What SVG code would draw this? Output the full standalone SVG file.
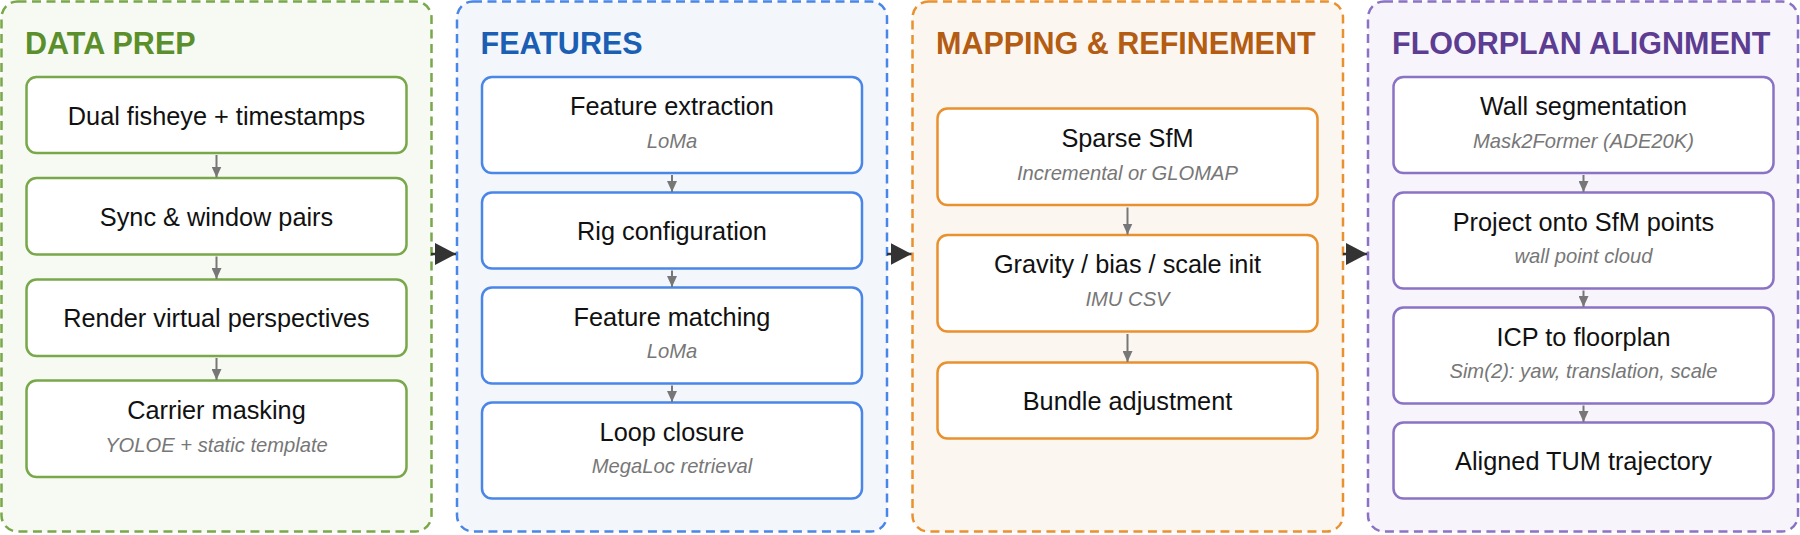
<svg xmlns="http://www.w3.org/2000/svg" width="1800" height="535" viewBox="0 0 1800 535">
<defs>
<marker id="sm" viewBox="0 0 11 10" refX="11" refY="5" markerWidth="11" markerHeight="10" markerUnits="userSpaceOnUse" orient="auto"><path d="M0,0 L11,5 L0,10 z" fill="#777"/></marker>
<marker id="big" viewBox="0 0 21 22" refX="21" refY="11" markerWidth="21" markerHeight="22" markerUnits="userSpaceOnUse" orient="auto"><path d="M0,0 L21,11 L0,22 z" fill="#333"/></marker>
</defs>
<style>
.panel{stroke-width:2.5;stroke-dasharray:9 5.5}
.node{fill:#fff;stroke-width:2.5}
.ttl{font-family:"Liberation Sans",Arial,sans-serif;font-weight:bold;font-size:30.5px}
.t{font-family:"Liberation Sans",Arial,sans-serif;font-size:25.3px;fill:#111;text-anchor:middle}
.s{font-family:"Liberation Sans",Arial,sans-serif;font-size:20.2px;font-style:italic;fill:#777;text-anchor:middle}
.g .panel,.g .node{stroke:#78a84a}.g .panel{fill:#f7faf3}.g .ttl{fill:#5a8f2c}
.b .panel,.b .node{stroke:#4a86e8}.b .panel{fill:#f3f7fb}.b .ttl{fill:#1a5fb4}
.o .panel,.o .node{stroke:#e8912e}.o .panel{fill:#fcf6f0}.o .ttl{fill:#b35c12}
.p .panel,.p .node{stroke:#8a72c4}.p .panel{fill:#f8f4fb}.p .ttl{fill:#5c3d92}
.sa{stroke:#777;stroke-width:2;fill:none}
.ba{stroke:#333;stroke-width:2.5;fill:none}
</style>

<g id="panel-data-prep" class="g">
<rect class="panel" x="1.5" y="1.5" width="430" height="530" rx="16"/>
<text class="ttl" x="25" y="53.5">DATA PREP</text>
<g id="n-dual"><rect class="node" x="26.5" y="77" width="380" height="76" rx="10"/><text class="t" x="216.5" y="124.5">Dual fisheye + timestamps</text></g>
<g id="n-sync"><rect class="node" x="26.5" y="178" width="380" height="76.5" rx="10"/><text class="t" x="216.5" y="225.5">Sync &amp; window pairs</text></g>
<g id="n-render"><rect class="node" x="26.5" y="279.5" width="380" height="76.5" rx="10"/><text class="t" x="216.5" y="327">Render virtual perspectives</text></g>
<g id="n-carrier"><rect class="node" x="26.5" y="380.5" width="380" height="96.5" rx="10"/><text class="t" x="216.5" y="419">Carrier masking</text><text class="s" x="216.5" y="451.5">YOLOE + static template</text></g>
</g>

<g id="panel-features" class="b">
<rect class="panel" x="457" y="1.5" width="430" height="530" rx="16"/>
<text class="ttl" x="480.5" y="53.5">FEATURES</text>
<g id="n-fext"><rect class="node" x="482" y="77" width="380" height="96" rx="10"/><text class="t" x="672" y="115">Feature extraction</text><text class="s" x="672" y="147.5">LoMa</text></g>
<g id="n-rig"><rect class="node" x="482" y="192.5" width="380" height="76" rx="10"/><text class="t" x="672" y="240">Rig configuration</text></g>
<g id="n-fmatch"><rect class="node" x="482" y="287.5" width="380" height="96" rx="10"/><text class="t" x="672" y="325.5">Feature matching</text><text class="s" x="672" y="358">LoMa</text></g>
<g id="n-loop"><rect class="node" x="482" y="402.5" width="380" height="96" rx="10"/><text class="t" x="672" y="440.5">Loop closure</text><text class="s" x="672" y="473">MegaLoc retrieval</text></g>
</g>

<g id="panel-mapping" class="o">
<rect class="panel" x="912.5" y="1.5" width="430.5" height="530" rx="16"/>
<text class="ttl" x="936" y="53.5">MAPPING &amp; REFINEMENT</text>
<g id="n-sfm"><rect class="node" x="937.5" y="108.5" width="380" height="96.5" rx="10"/><text class="t" x="1127.5" y="146.5">Sparse SfM</text><text class="s" x="1127.5" y="179.5">Incremental or GLOMAP</text></g>
<g id="n-gravity"><rect class="node" x="937.5" y="235" width="380" height="96.5" rx="10"/><text class="t" x="1127.5" y="273">Gravity / bias / scale init</text><text class="s" x="1127.5" y="306">IMU CSV</text></g>
<g id="n-ba"><rect class="node" x="937.5" y="362.5" width="380" height="76" rx="10"/><text class="t" x="1127.5" y="409.5">Bundle adjustment</text></g>
</g>

<g id="panel-floorplan" class="p">
<rect class="panel" x="1368" y="1.5" width="430" height="530" rx="16"/>
<text class="ttl" x="1392" y="53.5">FLOORPLAN ALIGNMENT</text>
<g id="n-wall"><rect class="node" x="1393.5" y="77" width="380" height="96" rx="10"/><text class="t" x="1583.5" y="115">Wall segmentation</text><text class="s" x="1583.5" y="147.5">Mask2Former (ADE20K)</text></g>
<g id="n-project"><rect class="node" x="1393.5" y="192.5" width="380" height="96" rx="10"/><text class="t" x="1583.5" y="230.5">Project onto SfM points</text><text class="s" x="1583.5" y="263">wall point cloud</text></g>
<g id="n-icp"><rect class="node" x="1393.5" y="307.5" width="380" height="96" rx="10"/><text class="t" x="1583.5" y="345.5">ICP to floorplan</text><text class="s" x="1583.5" y="378">Sim(2): yaw, translation, scale</text></g>
<g id="n-aligned"><rect class="node" x="1393.5" y="422.5" width="380" height="76" rx="10"/><text class="t" x="1583.5" y="470">Aligned TUM trajectory</text></g>
</g>

<g id="connectors">
<line class="sa" x1="216.5" y1="155" x2="216.5" y2="177.5" marker-end="url(#sm)"/>
<line class="sa" x1="216.5" y1="256.5" x2="216.5" y2="279" marker-end="url(#sm)"/>
<line class="sa" x1="216.5" y1="358" x2="216.5" y2="380" marker-end="url(#sm)"/>
<line class="sa" x1="672" y1="175" x2="672" y2="192" marker-end="url(#sm)"/>
<line class="sa" x1="672" y1="270.5" x2="672" y2="287" marker-end="url(#sm)"/>
<line class="sa" x1="672" y1="385.5" x2="672" y2="402" marker-end="url(#sm)"/>
<line class="sa" x1="1127.5" y1="207.5" x2="1127.5" y2="234.5" marker-end="url(#sm)"/>
<line class="sa" x1="1127.5" y1="334" x2="1127.5" y2="362" marker-end="url(#sm)"/>
<line class="sa" x1="1583.5" y1="175" x2="1583.5" y2="192" marker-end="url(#sm)"/>
<line class="sa" x1="1583.5" y1="290.5" x2="1583.5" y2="307" marker-end="url(#sm)"/>
<line class="sa" x1="1583.5" y1="405.5" x2="1583.5" y2="422" marker-end="url(#sm)"/>
<line class="ba" x1="431" y1="254" x2="456" y2="254" marker-end="url(#big)"/>
<line class="ba" x1="887" y1="254" x2="911.5" y2="254" marker-end="url(#big)"/>
<line class="ba" x1="1343" y1="254" x2="1367" y2="254" marker-end="url(#big)"/>
</g>
</svg>
